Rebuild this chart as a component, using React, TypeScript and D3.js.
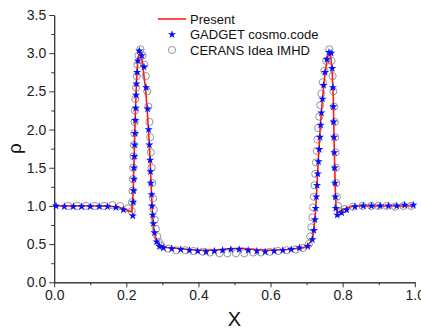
import { useEffect, useRef } from 'react';
import * as d3 from 'd3';

// ─── Data ───────────────────────────────────────────────────

type Pt = [number, number];

const PRESENT: Pt[] = [
  [0, 1.0], [0.05, 1.0], [0.1, 1.0], [0.15, 0.995], [0.17, 0.99], [0.19, 0.97],
  [0.205, 0.94], [0.214, 0.92], [0.216, 0.93], [0.219, 1.2], [0.222, 1.7],
  [0.225, 2.2], [0.228, 2.6], [0.231, 2.85], [0.234, 2.97], [0.237, 3.0],
  [0.241, 2.97], [0.245, 2.87], [0.249, 2.7], [0.254, 2.5], [0.258, 2.25],
  [0.262, 1.95], [0.266, 1.6], [0.269, 1.25], [0.272, 0.95], [0.275, 0.74],
  [0.279, 0.62], [0.283, 0.56], [0.289, 0.51], [0.297, 0.475], [0.31, 0.455],
  [0.35, 0.44], [0.4, 0.42], [0.44, 0.42], [0.48, 0.44], [0.52, 0.445],
  [0.56, 0.43], [0.6, 0.42], [0.65, 0.43], [0.69, 0.45], [0.7, 0.47],
  [0.712, 0.53], [0.719, 0.64], [0.724, 0.87], [0.728, 1.2], [0.733, 1.65],
  [0.738, 2.05], [0.743, 2.35], [0.748, 2.6], [0.753, 2.8], [0.758, 2.95],
  [0.763, 3.0], [0.767, 2.95], [0.771, 2.75], [0.774, 2.4], [0.776, 1.9],
  [0.778, 1.5], [0.78, 1.15], [0.782, 0.95], [0.785, 0.91], [0.792, 0.93],
  [0.8, 0.95], [0.815, 0.98], [0.83, 0.995], [0.86, 1.0], [1.0, 1.0],
];

const GADGET: Pt[] = [
  [0.005, 1.0], [0.028, 0.99], [0.053, 0.99], [0.076, 0.99], [0.1, 0.99],
  [0.125, 0.99], [0.148, 0.99], [0.171, 0.98], [0.192, 0.95], [0.218, 0.87],
  [0.219, 1.05], [0.22, 1.2], [0.221, 1.35], [0.221, 1.5], [0.222, 1.65],
  [0.223, 1.8], [0.224, 1.95], [0.225, 2.12], [0.226, 2.28], [0.227, 2.45],
  [0.228, 2.6], [0.23, 2.75], [0.232, 2.9], [0.236, 3.03],
  [0.243, 2.97], [0.249, 2.82], [0.255, 2.55], [0.259, 2.27], [0.262, 2.0],
  [0.264, 1.8], [0.266, 1.6], [0.267, 1.45], [0.268, 1.3], [0.27, 1.15],
  [0.271, 1.0], [0.273, 0.88], [0.275, 0.77], [0.278, 0.65], [0.284, 0.53],
  [0.292, 0.47],
  [0.303, 0.45], [0.326, 0.44], [0.351, 0.43], [0.375, 0.42], [0.398, 0.41],
  [0.421, 0.4], [0.444, 0.41], [0.467, 0.42], [0.49, 0.43], [0.513, 0.43],
  [0.538, 0.42], [0.562, 0.41], [0.585, 0.4], [0.61, 0.41], [0.634, 0.42],
  [0.657, 0.43], [0.68, 0.45], [0.703, 0.47],
  [0.716, 0.56], [0.72, 0.68], [0.723, 0.82], [0.725, 0.97], [0.727, 1.12],
  [0.729, 1.27], [0.731, 1.42], [0.733, 1.58], [0.735, 1.74], [0.737, 1.9],
  [0.739, 2.06], [0.741, 2.22], [0.744, 2.4], [0.747, 2.58], [0.751, 2.75],
  [0.756, 2.92], [0.762, 3.01],
  [0.768, 3.0], [0.771, 2.8], [0.773, 2.55], [0.774, 2.3], [0.775, 2.1],
  [0.776, 1.9], [0.777, 1.7], [0.778, 1.5], [0.779, 1.3], [0.78, 1.12],
  [0.781, 0.97], [0.785, 0.88],
  [0.797, 0.91], [0.811, 0.95], [0.834, 0.99], [0.857, 1.0], [0.88, 1.0],
  [0.904, 1.0], [0.927, 1.0], [0.95, 1.0], [0.972, 1.01], [0.996, 1.01],
];

const CERANS: Pt[] = [
  [0.039, 1.0], [0.064, 1.0], [0.088, 1.0], [0.113, 1.0], [0.138, 1.0],
  [0.162, 1.01], [0.183, 1.0], [0.205, 0.97], [0.215, 0.93],
  [0.216, 1.05], [0.217, 1.2], [0.218, 1.35], [0.219, 1.5], [0.22, 1.65],
  [0.221, 1.8], [0.222, 1.95], [0.223, 2.1], [0.224, 2.25], [0.225, 2.4],
  [0.227, 2.55], [0.229, 2.7], [0.231, 2.85], [0.234, 2.97], [0.239, 3.05],
  [0.245, 2.97], [0.25, 2.85], [0.254, 2.7], [0.258, 2.5], [0.261, 2.3],
  [0.264, 2.1], [0.266, 1.9], [0.268, 1.7], [0.27, 1.5], [0.272, 1.3],
  [0.274, 1.1], [0.276, 0.95], [0.279, 0.82], [0.282, 0.7], [0.286, 0.6],
  [0.29, 0.53], [0.297, 0.48], [0.316, 0.44],
  [0.338, 0.42], [0.363, 0.42], [0.386, 0.41], [0.412, 0.4], [0.432, 0.39],
  [0.458, 0.38], [0.48, 0.38], [0.504, 0.38], [0.527, 0.38], [0.552, 0.39],
  [0.573, 0.39], [0.598, 0.4], [0.621, 0.41], [0.645, 0.42], [0.67, 0.43],
  [0.69, 0.45],
  [0.706, 0.5], [0.71, 0.6], [0.713, 0.72], [0.716, 0.85], [0.718, 0.98],
  [0.72, 1.12], [0.722, 1.27], [0.724, 1.42], [0.726, 1.57], [0.728, 1.72],
  [0.73, 1.87], [0.732, 2.02], [0.735, 2.17], [0.738, 2.32], [0.741, 2.47],
  [0.745, 2.62], [0.749, 2.77], [0.754, 2.9], [0.763, 3.05],
  [0.769, 2.9], [0.772, 2.7], [0.774, 2.5], [0.776, 2.3], [0.778, 2.1],
  [0.779, 1.9], [0.78, 1.7], [0.781, 1.5], [0.782, 1.3], [0.784, 1.12],
  [0.787, 1.0], [0.793, 0.93],
  [0.806, 0.96], [0.829, 0.99], [0.855, 1.0], [0.879, 1.0], [0.899, 1.0],
  [0.922, 1.0], [0.945, 0.99], [0.968, 1.0], [0.99, 1.0],
];

const X_TICKS = [0, 0.2, 0.4, 0.6, 0.8, 1.0];
const Y_TICKS = [0, 0.5, 1.0, 1.5, 2.0, 2.5, 3.0, 3.5];
const X_MINOR = [0.1, 0.3, 0.5, 0.7, 0.9];
const Y_MINOR = [0.25, 0.75, 1.25, 1.75, 2.25, 2.75, 3.25];

const LEGEND = ['Present', 'GADGET cosmo.code', 'CERANS Idea IMHD'];

// ─── Constants ──────────────────────────────────────────────

const W = 421;
const H = 328;
const PLOT = { left: 54.2, right: 414.8, top: 15, bottom: 282.3 };
const FONT = '"Liberation Sans", Arial, sans-serif';
const AXIS_COLOR = '#333';
const RED = '#ff1a1a';
const BLUE = '#0010ff';
const GRAY = '#8a8a8a';

export default function App() {
  const svgRef = useRef<SVGSVGElement>(null);

  useEffect(() => {
    if (!svgRef.current) return;
    const svg = d3.select(svgRef.current);
    svg.selectAll('*').remove();

    const x = d3.scaleLinear().domain([0, 1]).range([PLOT.left, PLOT.right]);
    const y = d3.scaleLinear().domain([0, 3.5]).range([PLOT.bottom, PLOT.top]);

    const styleAxis = (sel: d3.Selection<SVGGElement, unknown, null, undefined>) => {
      sel.select('.domain').attr('stroke', AXIS_COLOR).attr('stroke-width', 1);
      sel.selectAll('line').attr('stroke', AXIS_COLOR);
      sel.selectAll('text')
        .attr('fill', '#222')
        .attr('font-family', FONT)
        .attr('font-size', '14px');
    };

    // Minor ticks
    svg.append('g').attr('transform', `translate(0,${PLOT.bottom})`)
      .call(d3.axisBottom(x).tickValues(X_MINOR).tickSize(3).tickFormat(() => '').tickSizeOuter(0))
      .call(styleAxis);
    svg.append('g').attr('transform', `translate(${PLOT.left},0)`)
      .call(d3.axisLeft(y).tickValues(Y_MINOR).tickSize(3).tickFormat(() => '').tickSizeOuter(0))
      .call(styleAxis);

    // Major axes
    svg.append('g').attr('transform', `translate(0,${PLOT.bottom})`)
      .call(d3.axisBottom(x).tickValues(X_TICKS).tickSize(5).tickPadding(3)
        .tickFormat(d3.format('.1f')).tickSizeOuter(0))
      .call(styleAxis);
    svg.append('g').attr('transform', `translate(${PLOT.left},0)`)
      .call(d3.axisLeft(y).tickValues(Y_TICKS).tickSize(5).tickPadding(3)
        .tickFormat(d3.format('.1f')).tickSizeOuter(0))
      .call(styleAxis);

    // Axis titles
    svg.append('text')
      .attr('x', (PLOT.left + PLOT.right) / 2).attr('y', 326)
      .attr('text-anchor', 'middle')
      .attr('font-family', FONT).attr('font-size', '20px').attr('fill', '#111')
      .text('X');
    svg.append('text')
      .attr('transform', `translate(21,${(PLOT.top + PLOT.bottom) / 2}) rotate(-90)`)
      .attr('text-anchor', 'middle')
      .attr('font-family', FONT).attr('font-size', '19px').attr('fill', '#111')
      .text('ρ');

    // CERANS circles
    svg.append('g').selectAll('circle')
      .data(CERANS)
      .join('circle')
      .attr('cx', (d) => x(d[0])).attr('cy', (d) => y(d[1]))
      .attr('r', 3.6)
      .attr('fill', 'none')
      .attr('stroke', GRAY)
      .attr('stroke-width', 0.9);

    // Present line
    const line = d3.line<Pt>().x((d) => x(d[0])).y((d) => y(d[1]));
    svg.append('path').datum(PRESENT)
      .attr('fill', 'none')
      .attr('stroke', RED)
      .attr('stroke-width', 1.6)
      .attr('stroke-linejoin', 'round')
      .attr('d', line);

    // GADGET stars
    const star = d3.symbol().type(d3.symbolStar).size(21);
    svg.append('g').selectAll('path')
      .data(GADGET)
      .join('path')
      .attr('transform', (d) => `translate(${x(d[0])},${y(d[1])})`)
      .attr('d', star())
      .attr('fill', BLUE);

    // Legend
    const lg = svg.append('g');
    const rows = [19, 34.5, 50];
    lg.append('line')
      .attr('x1', 158).attr('x2', 186).attr('y1', rows[0]).attr('y2', rows[0])
      .attr('stroke', RED).attr('stroke-width', 1.6);
    lg.append('path')
      .attr('transform', `translate(172,${rows[1]})`)
      .attr('d', star()).attr('fill', BLUE);
    lg.append('circle')
      .attr('cx', 172).attr('cy', rows[2]).attr('r', 3.6)
      .attr('fill', 'none').attr('stroke', GRAY).attr('stroke-width', 0.9);
    LEGEND.forEach((label, i) => {
      lg.append('text')
        .attr('x', 190).attr('y', rows[i])
        .attr('dy', '0.36em')
        .attr('font-family', FONT).attr('font-size', '13px').attr('fill', '#111')
        .text(label);
    });
  }, []);

  return (
    <div style={{ position: 'fixed', left: 0, top: 0, background: '#fff' }}>
      <svg ref={svgRef} width={W} height={H} style={{ display: 'block' }} />
    </div>
  );
}
